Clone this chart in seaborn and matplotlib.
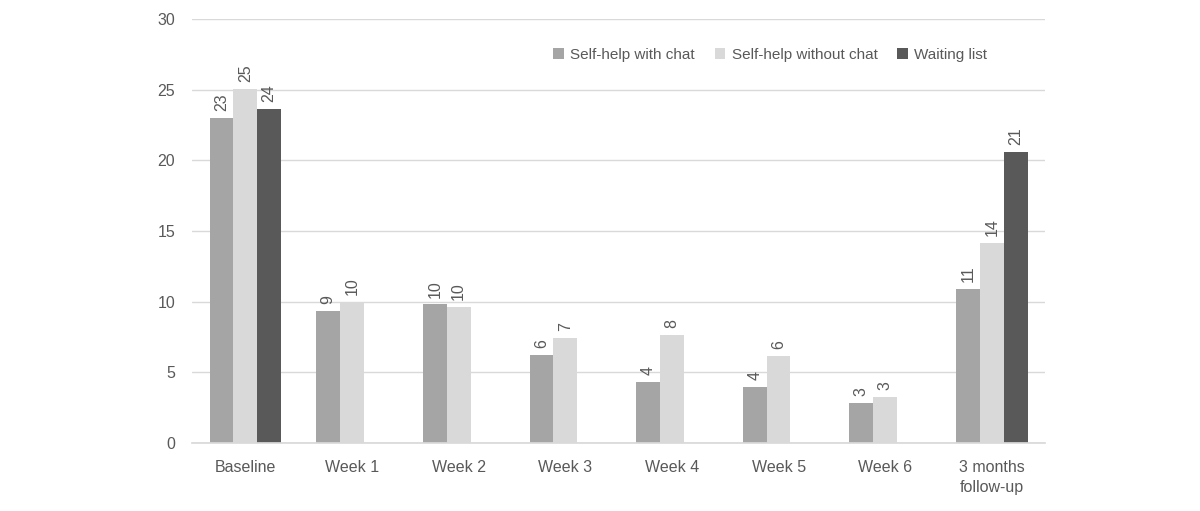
import numpy as np
import pandas as pd
import matplotlib.pyplot as plt
import seaborn as sns

# Values
timepoints = ["Baseline", "Week 1", "Week 2", "Week 3", "Week 4", "Week 5", "Week 6",
              "3 months\nfollow-up"]
with_chat = [23.0, 9.35, 9.8, 6.25, 4.3, 3.95, 2.85, 10.9]
without_chat = [25.05, 10.0, 9.65, 7.45, 7.65, 6.15, 3.25, 14.15]
waiting_list = [23.6, np.nan, np.nan, np.nan, np.nan, np.nan, np.nan, 20.6]
groups = ["Self-help with chat", "Self-help without chat", "Waiting list"]
colors = ["#A5A5A5", "#D9D9D9", "#595959"]

df = pd.DataFrame({
    "time": timepoints * 3,
    "group": [groups[0]] * 8 + [groups[1]] * 8 + [groups[2]] * 8,
    "score": with_chat + without_chat + waiting_list,
})

sns.set_theme(style="white")
plt.rcParams["font.family"] = ["Liberation Sans", "DejaVu Sans"]
text_col = "#595959"

fig = plt.figure(figsize=(12, 5.11), dpi=100)
ax = fig.add_axes([0.16, 0.133, 0.711, 0.83])

sns.barplot(data=df, x="time", y="score", hue="group", palette=colors,
            width=0.67, ax=ax, saturation=1, errorbar=None, linewidth=0)

# Value labels above each bar, rotated like the original
for cont in ax.containers:
    ax.bar_label(cont, fmt="%.0f", rotation=90, padding=5, fontsize=11.5, color=text_col)

ax.set_ylim(0, 30)
ax.set_yticks(range(0, 31, 5))
ax.yaxis.grid(True, color="#D9D9D9", linewidth=1)
ax.set_axisbelow(True)
ax.set_xlabel("")
ax.set_ylabel("")
for side in ["top", "right", "left"]:
    ax.spines[side].set_visible(False)
ax.spines["bottom"].set_color("#D9D9D9")
ax.tick_params(axis="both", colors=text_col, labelsize=11.5, length=0)
ax.tick_params(axis="x", pad=12)
ax.tick_params(axis="y", pad=12)
for lbl in ax.get_xticklabels():
    lbl.set_linespacing(1.45)

ax.legend(loc="upper right", bbox_to_anchor=(0.948, 0.965), ncol=3, frameon=False,
          fontsize=11, handlelength=0.7, handleheight=0.7, handletextpad=0.4,
          columnspacing=1.3, labelcolor=text_col)

fig.savefig("out.png", dpi=100)
